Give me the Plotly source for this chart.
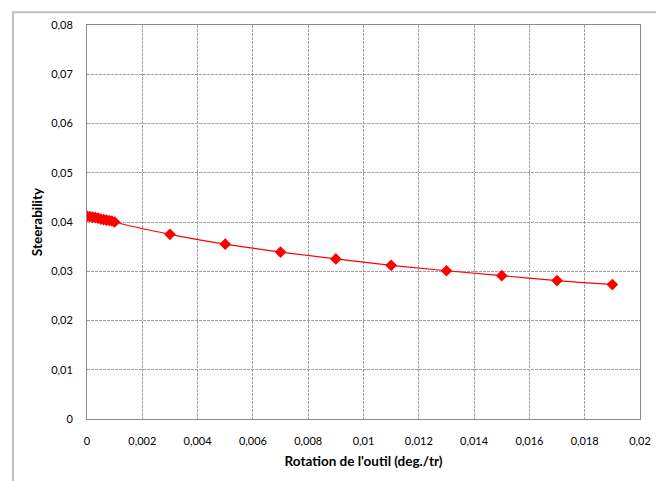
import plotly.graph_objects as go

rotation = [0.0, 0.0001, 0.0002, 0.0003, 0.0004, 0.0005, 0.0006, 0.0007, 0.0008, 0.0009, 0.001,
            0.003, 0.005, 0.007, 0.009, 0.011, 0.013, 0.015, 0.017, 0.019]
steerability = [0.0412, 0.0411, 0.0410, 0.0409, 0.0408, 0.0406, 0.0405, 0.0404, 0.0403, 0.0402, 0.0400,
                0.0375, 0.0355, 0.0339, 0.0325, 0.0312, 0.0301, 0.0291, 0.0281, 0.0273]

x_tickvals = [0, 0.002, 0.004, 0.006, 0.008, 0.01, 0.012, 0.014, 0.016, 0.018, 0.02]
x_ticktext = ["0", "0,002", "0,004", "0,006", "0,008", "0,01", "0,012", "0,014", "0,016", "0,018", "0,02"]
y_tickvals = [0, 0.01, 0.02, 0.03, 0.04, 0.05, 0.06, 0.07, 0.08]
y_ticktext = ["0", "0,01", "0,02", "0,03", "0,04", "0,05", "0,06", "0,07", "0,08"]

fig = go.Figure()
fig.add_trace(go.Scatter(
    x=rotation, y=steerability, mode="lines+markers",
    line=dict(color="#ff0000", width=1.2, shape="spline"),
    marker=dict(symbol="diamond", size=9, color="#ff0000"),
    showlegend=False, hoverinfo="skip"))

font = "Lato, 'Open Sans', sans-serif"
grid = dict(showgrid=True, gridcolor="#a0a0a0", griddash="3px,1px", gridwidth=1,
            zeroline=False, showline=True, linecolor="#8c8c8c", linewidth=1, mirror=True,
            ticks="", tickfont=dict(family=font, size=11, color="#000"))

L, T, PW, PH = 79, 10, 553, 401
W, H = 656, 473

fig.update_layout(
    width=W, height=H,
    margin=dict(l=L, r=W - L - PW, t=T, b=H - T - PH),
    paper_bgcolor="white", plot_bgcolor="white",
    font=dict(family=font, color="#000"),
    xaxis=dict(range=[0, 0.02], tickvals=x_tickvals, ticktext=x_ticktext,
               ticklabelstandoff=12,
               title=dict(text="<b>Rotation de l'outil (deg./tr)</b>", font=dict(family=font, size=13.5), standoff=10),
               **grid),
    yaxis=dict(range=[0, 0.08], tickvals=y_tickvals, ticktext=y_ticktext,
               ticklabelstandoff=11,
               title=dict(text="<b>Steerability</b>", font=dict(family=font, size=13.5), standoff=5),
               **grid),
)

# outer chart frame (Excel style); page coords offset by 8px body margin
def px_x(p):
    return (p - 8 - L) / PW

def px_y(p):
    return (T + PH - (p - 8)) / PH

fig.add_shape(type="rect", xref="paper", yref="paper",
              x0=px_x(13), x1=px_x(663), y0=px_y(500), y1=px_y(5),
              line=dict(color="#c0c0c0", width=2), layer="below")

fig.write_html("out.html")
